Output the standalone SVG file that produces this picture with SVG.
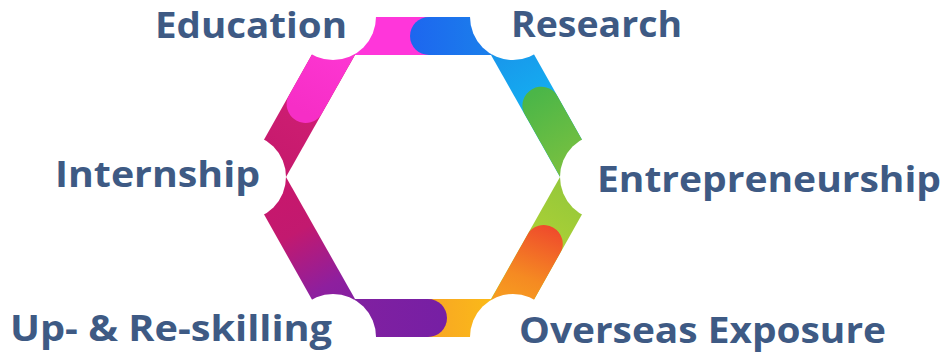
<svg xmlns="http://www.w3.org/2000/svg" width="945" height="357" viewBox="0 0 945 357">
  <style>
    .lbl { font-family: "Open Sans", "Liberation Sans", sans-serif; font-weight: 700; font-size: 36px; fill: #3e5a84; }
    .notch { fill: #ffffff; }
    .cap { fill: none; stroke-width: 38; stroke-linecap: round; }
  </style>
  <defs>
    <clipPath id="c1"><polygon points="243,177 333,17 355,55 286,177"/></clipPath>
    <clipPath id="c2"><polygon points="333,17 513,17 491,55 355,55"/></clipPath>
    <clipPath id="c3"><polygon points="513,17 603,177 560,177 491,55"/></clipPath>
    <clipPath id="c4"><polygon points="603,177 513,337 491,299 560,177"/></clipPath>
    <clipPath id="c5"><polygon points="513,337 333,337 355,299 491,299"/></clipPath>
    <clipPath id="c6"><polygon points="333,337 243,177 286,177 355,299"/></clipPath>

    <linearGradient id="gCrimson" gradientUnits="userSpaceOnUse" x1="260" y1="180" x2="320" y2="90">
      <stop offset="0" stop-color="#c4186b"/>
      <stop offset="1" stop-color="#d01f74"/>
    </linearGradient>
    <linearGradient id="gPink" gradientUnits="userSpaceOnUse" x1="300" y1="110" x2="345" y2="30">
      <stop offset="0" stop-color="#f62ec6"/>
      <stop offset="1" stop-color="#ff38d6"/>
    </linearGradient>
    <linearGradient id="gBlue" gradientUnits="userSpaceOnUse" x1="410" y1="36" x2="513" y2="36">
      <stop offset="0" stop-color="#1d66ef"/>
      <stop offset="1" stop-color="#1a86ea"/>
    </linearGradient>
    <linearGradient id="gLBlue" gradientUnits="userSpaceOnUse" x1="505" y1="30" x2="545" y2="100">
      <stop offset="0" stop-color="#1a90ea"/>
      <stop offset="1" stop-color="#14aef0"/>
    </linearGradient>
    <linearGradient id="gGreen" gradientUnits="userSpaceOnUse" x1="540" y1="90" x2="590" y2="180">
      <stop offset="0" stop-color="#4bb648"/>
      <stop offset="1" stop-color="#84c33e"/>
    </linearGradient>
    <linearGradient id="gYG" gradientUnits="userSpaceOnUse" x1="590" y1="180" x2="555" y2="240">
      <stop offset="0" stop-color="#8fc63c"/>
      <stop offset="1" stop-color="#a8cf36"/>
    </linearGradient>
    <linearGradient id="gOrange" gradientUnits="userSpaceOnUse" x1="545" y1="225" x2="505" y2="330">
      <stop offset="0" stop-color="#ef4b2c"/>
      <stop offset="0.5" stop-color="#f58a22"/>
      <stop offset="1" stop-color="#f9ae1e"/>
    </linearGradient>
    <linearGradient id="gYellow" gradientUnits="userSpaceOnUse" x1="513" y1="318" x2="430" y2="318">
      <stop offset="0" stop-color="#fcc114"/>
      <stop offset="1" stop-color="#f8a624"/>
    </linearGradient>
    <linearGradient id="gPurple" gradientUnits="userSpaceOnUse" x1="447" y1="318" x2="340" y2="318">
      <stop offset="0" stop-color="#761fa4"/>
      <stop offset="1" stop-color="#8220a0"/>
    </linearGradient>
    <linearGradient id="gLowLeft" gradientUnits="userSpaceOnUse" x1="270" y1="185" x2="345" y2="320">
      <stop offset="0" stop-color="#c8176c"/>
      <stop offset="0.35" stop-color="#c2196f"/>
      <stop offset="0.75" stop-color="#8e1f9e"/>
      <stop offset="1" stop-color="#8020a2"/>
    </linearGradient>
  </defs>

  <g id="ring">
    <g id="side-upper-left" clip-path="url(#c1)">
      <rect x="230" y="0" width="140" height="190" fill="url(#gCrimson)"/>
      <line class="cap" x1="305.6" y1="104" x2="386.7" y2="-40" stroke="url(#gPink)"/>
    </g>
    <g id="side-top" clip-path="url(#c2)">
      <rect x="320" y="0" width="200" height="60" fill="#ff36da"/>
      <line class="cap" x1="429" y1="36" x2="560" y2="36" stroke="url(#gBlue)"/>
    </g>
    <g id="side-upper-right" clip-path="url(#c3)">
      <rect x="480" y="0" width="130" height="190" fill="url(#gLBlue)"/>
      <line class="cap" x1="541.4" y1="105.7" x2="620" y2="245" stroke="url(#gGreen)"/>
    </g>
    <g id="side-lower-right" clip-path="url(#c4)">
      <rect x="480" y="170" width="130" height="180" fill="url(#gYG)"/>
      <line class="cap" x1="543.8" y1="244" x2="480" y2="358" stroke="url(#gOrange)"/>
    </g>
    <g id="side-bottom" clip-path="url(#c5)">
      <rect x="320" y="290" width="200" height="60" fill="url(#gYellow)"/>
      <line class="cap" x1="428" y1="318" x2="300" y2="318" stroke="url(#gPurple)"/>
    </g>
    <g id="side-lower-left" clip-path="url(#c6)">
      <rect x="230" y="170" width="140" height="180" fill="url(#gLowLeft)"/>
    </g>
    <g id="notches">
      <circle class="notch" cx="243" cy="177" r="43"/>
      <circle class="notch" cx="333" cy="17" r="43"/>
      <circle class="notch" cx="513" cy="17" r="43"/>
      <circle class="notch" cx="603" cy="177" r="43"/>
      <circle class="notch" cx="513" cy="337" r="43"/>
      <circle class="notch" cx="333" cy="337" r="43"/>
    </g>
  </g>

  <g id="education"><text class="lbl" x="155" y="37.5" textLength="192" lengthAdjust="spacingAndGlyphs">Education</text></g>
  <g id="research"><text class="lbl" x="511" y="37" textLength="171" lengthAdjust="spacingAndGlyphs">Research</text></g>
  <g id="internship"><text class="lbl" x="55" y="187" textLength="205" lengthAdjust="spacingAndGlyphs">Internship</text></g>
  <g id="entrepreneurship"><text class="lbl" x="597" y="192" textLength="344" lengthAdjust="spacingAndGlyphs">Entrepreneurship</text></g>
  <g id="upskilling"><text class="lbl" x="10" y="341" textLength="322" lengthAdjust="spacingAndGlyphs">Up- &amp; Re-skilling</text></g>
  <g id="overseas"><text class="lbl" x="519" y="343" textLength="367" lengthAdjust="spacingAndGlyphs">Overseas Exposure</text></g>
</svg>
